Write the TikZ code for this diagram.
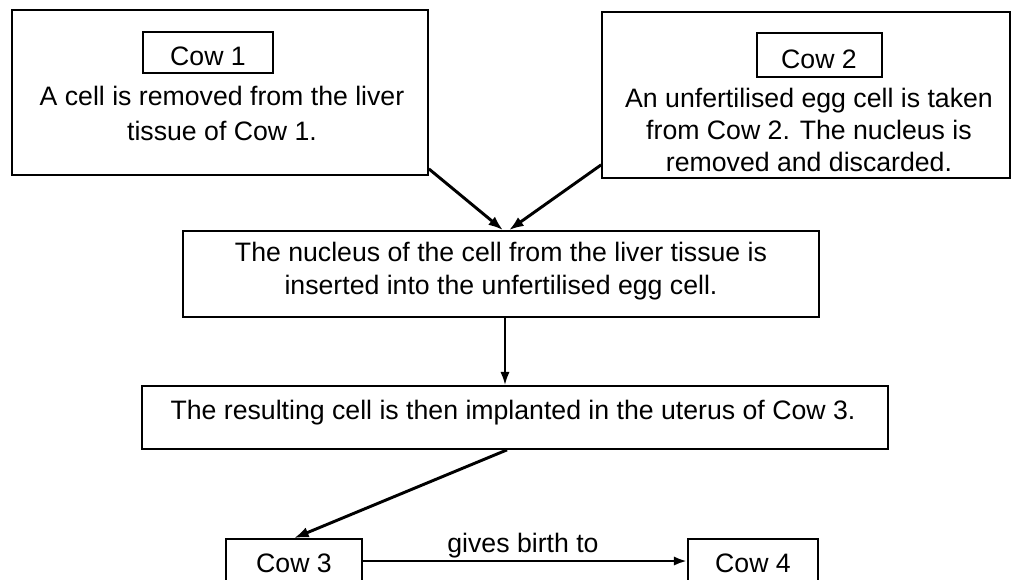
\documentclass[tikz,border=0pt]{standalone}
\usepackage{fontspec}
\setmainfont{Liberation Sans}
\usetikzlibrary{arrows.meta,fit,calc}
\begin{document}
\begin{tikzpicture}[x=0.75pt,y=-0.75pt,
  box/.style={draw, line width=1.3pt, inner sep=0pt},
  txt/.style={font=\fontsize{20}{24.5}\selectfont, inner sep=0pt, align=center},
  arr/.style={line width=2.2pt, -{Latex[length=11pt,width=8pt]}},
  thinarr/.style={line width=1.6pt, -{Latex[length=10pt,width=7pt]}},
]
\clip (0,0) rectangle (1014,579);
\fill[white] (0,0) rectangle (1014,579);

% top left box
\node[box, fit={(12,10)(428,175)}] (b1) {};
\node[box, fit={(143,32)(273,73)}] (c1) {};
\node[txt, anchor=base] (c1t) at (208,65) {Cow 1};
\node[txt, anchor=north, font=\fontsize{20}{26}\selectfont] (b1t) at (222,86) {A cell is removed from the liver\\tissue of Cow 1.};

% top right box
\node[box, fit={(602,12)(1010,178)}] (b2) {};
\node[box, fit={(757,33)(882,77)}] (c2) {};
\node[txt, anchor=base] (c2t) at (819,68) {Cow 2};
\node[txt, anchor=north, font=\fontsize{20}{24}\selectfont] (b2t) at (809,88) {An unfertilised egg cell is taken\\from Cow 2. The nucleus is\\removed and discarded.};

% middle box
\node[box, fit={(183,231)(819,317)}] (m) {};
\node[txt] (mt) at (501,271) {The nucleus of the cell from the liver tissue is\\inserted into the unfertilised egg cell.};

% implanted box
\node[box, fit={(142,386)(888,449)}] (b3) {};
\node[txt, anchor=base] (b3t) at (513,419) {The resulting cell is then implanted in the uterus of Cow 3.};

% bottom boxes
\node[box, fit={(226,539)(362,583)}] (c3) {};
\node[txt, anchor=base] (c3t) at (294,572) {Cow 3};
\node[box, fit={(688,539)(818,583)}] (c4) {};
\node[txt, anchor=base] (c4t) at (753,572) {Cow 4};

% connectors
\draw[arr] ($(b1.south east)+(0,-7)$) -- ($(m.north)+(2,0)$);
\draw[arr] ($(b2.south west)+(0,-14)$) -- ($(m.north)+(8,0)$);
\coordinate (vtop) at ($(m.south)+(4,0)$);
\draw[thinarr] (vtop) -- (vtop |- b3.north);
\draw[arr] ($(b3.south)+(-8,0)$) -- (c3.north);
\draw[thinarr, line width=2pt] (c3.east) -- (c4.west);
\node[txt, anchor=base] (gb) at (523,552) {gives birth to};
\end{tikzpicture}
\end{document}
